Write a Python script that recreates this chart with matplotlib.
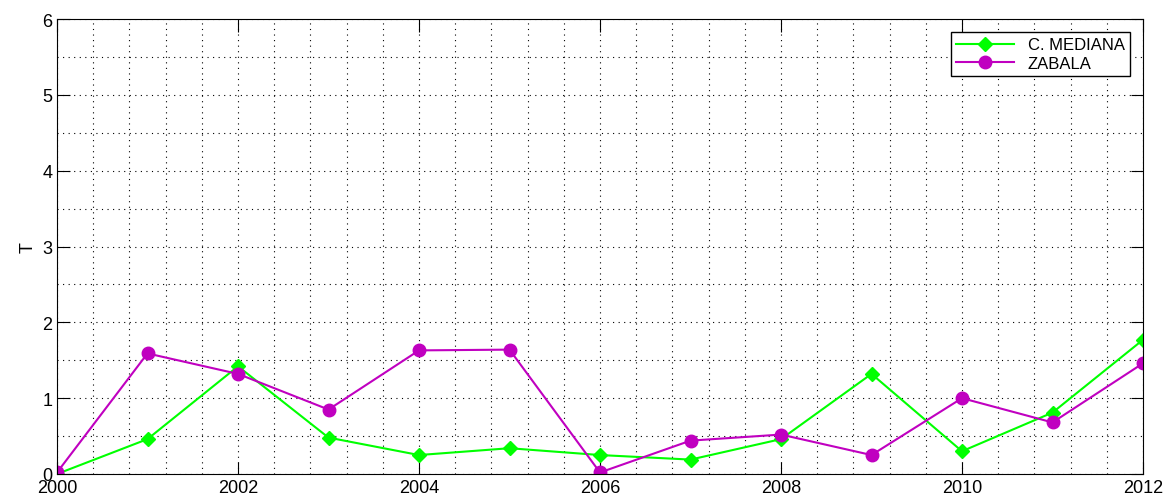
import matplotlib
matplotlib.use("Agg")
import matplotlib.pyplot as plt
from matplotlib.ticker import MultipleLocator

plt.rcParams['font.family'] = ['Liberation Sans', 'DejaVu Sans']

years = list(range(2000, 2013))
mediana = [0.0, 0.46, 1.42, 0.48, 0.25, 0.34, 0.25, 0.19, 0.46, 1.32, 0.30, 0.81, 1.77]
zabala = [0.02, 1.59, 1.32, 0.85, 1.63, 1.64, 0.02, 0.44, 0.52, 0.25, 1.00, 0.68, 1.46]

fig = plt.figure(figsize=(11.63, 5.02), dpi=100)
ax = fig.add_axes([57/1163, 27/502, (1143-57)/1163, (475-20)/502])
ax.plot(years, mediana, color='#00ff00', marker='D', markersize=7, lw=1.5, label='C. MEDIANA')
ax.plot(years, zabala, color='#c000c0', marker='o', markersize=9, lw=1.5, label='ZABALA')
ax.set_xlim(2000, 2012)
ax.set_ylim(0, 6)
ax.xaxis.set_major_locator(MultipleLocator(2))
ax.xaxis.set_minor_locator(MultipleLocator(0.4))
ax.yaxis.set_major_locator(MultipleLocator(1))
ax.yaxis.set_minor_locator(MultipleLocator(0.5))
ax.grid(True, which='minor', color='black', linestyle=(0, (1, 4)), lw=0.8)
ax.grid(True, which='major', color='black', linestyle=(0, (1, 4)), lw=0.8)
ax.tick_params(which='major', direction='in', top=True, right=True, labelsize=13, length=9)
ax.tick_params(which='minor', length=0)
ax.set_ylabel('T', fontsize=13)
ax.legend(loc='upper right', fontsize=12, fancybox=False, edgecolor='black', framealpha=1,
          borderaxespad=0.8, handlelength=3.5, labelspacing=0.2, borderpad=0.3)
fig.savefig('out.png')
